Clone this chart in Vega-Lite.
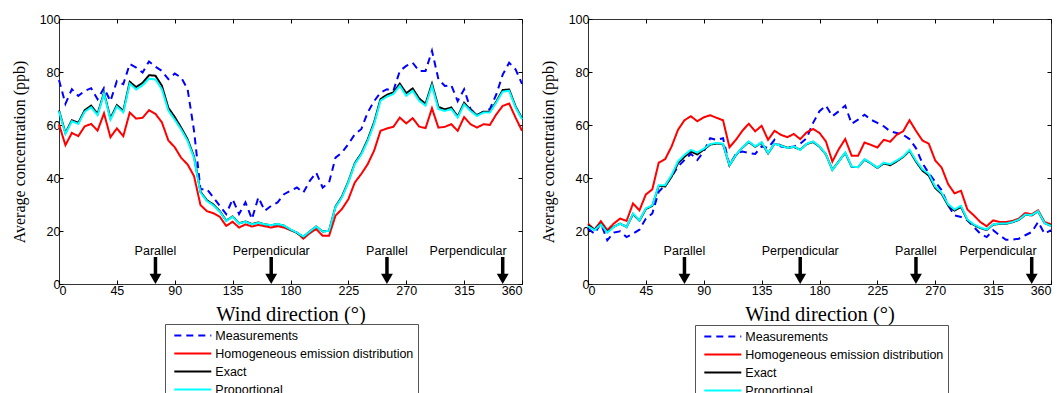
{
 "$schema": "https://vega.github.io/schema/vega-lite/v6.json",
 "padding": {"left": 10, "top": 12, "right": 5, "bottom": 5},
 "background": "white",
 "config": {
  "view": {"stroke": "#333", "strokeWidth": 1},
  "font": "Liberation Sans",
  "axis": {"domain": false, "grid": false, "tickColor": "#000", "labelColor": "#000", "titleColor": "#000", "labelFont": "Liberation Sans", "labelFontSize": 12.5, "tickSize": -4, "tickWidth": 1},
  "legend": {"orient": "none", "title": null, "symbolType": "M-3,0L3,0", "symbolSize": 152, "symbolStrokeWidth": 2, "labelFont": "Liberation Sans", "labelFontSize": 12.5, "labelColor": "#000", "padding": 4, "rowPadding": 4, "strokeColor": "#555", "fillColor": "#fff", "symbolOffset": 16.3, "labelOffset": 15, "labelLimit": 400}
 },
 "datasets": {
  "marks": [
   {"at": 75, "label": "Parallel"},
   {"at": 165, "label": "Perpendicular"},
   {"at": 255, "label": "Parallel"},
   {"at": 345, "label": "Perpendicular"}
  ],
  "left": [
   {"dir":0,"M":77,"H":60.2,"E":65.5,"P":65.2},
   {"dir":5,"M":68,"H":52.4,"E":57,"P":56.7},
   {"dir":10,"M":73.5,"H":57,"E":61.8,"P":61.4},
   {"dir":15,"M":71,"H":55.8,"E":60.8,"P":60.4},
   {"dir":20,"M":72.9,"H":59.5,"E":65.6,"P":65},
   {"dir":25,"M":73.9,"H":60.4,"E":67.3,"P":66.7},
   {"dir":30,"M":69.7,"H":57.9,"E":64.2,"P":63.7},
   {"dir":35,"M":74,"H":64.4,"E":72.2,"P":71.8},
   {"dir":40,"M":69,"H":55.4,"E":62.5,"P":62},
   {"dir":45,"M":76.6,"H":58.7,"E":67.5,"P":67},
   {"dir":50,"M":75.4,"H":55.8,"E":65.3,"P":64.8},
   {"dir":55,"M":83,"H":64.7,"E":76.3,"P":75.6},
   {"dir":60,"M":81.7,"H":62.4,"E":74.3,"P":73.4},
   {"dir":65,"M":79.8,"H":62.7,"E":75.9,"P":75},
   {"dir":70,"M":84,"H":65.6,"E":78.8,"P":77.5},
   {"dir":75,"M":82,"H":64.2,"E":78.6,"P":77.2},
   {"dir":80,"M":80.4,"H":61,"E":74.8,"P":73.5},
   {"dir":85,"M":77.3,"H":54.2,"E":66.5,"P":65.5},
   {"dir":90,"M":79.4,"H":51.6,"E":63,"P":62},
   {"dir":95,"M":77.9,"H":47.6,"E":59,"P":58.3},
   {"dir":100,"M":73.5,"H":45.1,"E":54.6,"P":54},
   {"dir":105,"M":57.8,"H":40.7,"E":48,"P":47.6},
   {"dir":110,"M":35.8,"H":29.8,"E":34.8,"P":34.5},
   {"dir":115,"M":35.8,"H":27.5,"E":31.6,"P":31.3},
   {"dir":120,"M":32.7,"H":26.7,"E":30,"P":29.7},
   {"dir":125,"M":29.5,"H":25.4,"E":27.5,"P":27.3},
   {"dir":130,"M":26.4,"H":21.9,"E":23.9,"P":23.8},
   {"dir":135,"M":32,"H":23.5,"E":25.5,"P":25.4},
   {"dir":140,"M":26.4,"H":21.3,"E":22.9,"P":22.8},
   {"dir":145,"M":30.8,"H":22.5,"E":23.6,"P":23.5},
   {"dir":150,"M":24.5,"H":21.7,"E":22.6,"P":22.5},
   {"dir":155,"M":32.7,"H":22.3,"E":23.2,"P":23.1},
   {"dir":160,"M":27.6,"H":21.8,"E":22.5,"P":22.5},
   {"dir":165,"M":29.5,"H":21.3,"E":22.2,"P":22.2},
   {"dir":170,"M":30.8,"H":21.8,"E":22.6,"P":22.7},
   {"dir":175,"M":33.9,"H":21.3,"E":22,"P":22},
   {"dir":180,"M":35.2,"H":20.3,"E":20.5,"P":20.6},
   {"dir":185,"M":36.4,"H":19.4,"E":19.3,"P":19.4},
   {"dir":190,"M":34.5,"H":17.1,"E":17.8,"P":17.9},
   {"dir":195,"M":38.9,"H":19.2,"E":19.8,"P":19.8},
   {"dir":200,"M":42,"H":20.7,"E":21.7,"P":21.7},
   {"dir":205,"M":36.4,"H":18.2,"E":19.8,"P":19.8},
   {"dir":210,"M":38.3,"H":18.2,"E":20.1,"P":20.1},
   {"dir":215,"M":47.7,"H":25.8,"E":29.2,"P":29},
   {"dir":220,"M":49.6,"H":28.3,"E":33,"P":32.7},
   {"dir":225,"M":52.8,"H":32,"E":38.7,"P":38.4},
   {"dir":230,"M":56.5,"H":38.3,"E":45.6,"P":45.3},
   {"dir":235,"M":58.4,"H":41.5,"E":49.2,"P":48.8},
   {"dir":240,"M":64.7,"H":45.2,"E":54.5,"P":54},
   {"dir":245,"M":69,"H":50.3,"E":61,"P":60.4},
   {"dir":250,"M":72.2,"H":57.8,"E":69.8,"P":69.2},
   {"dir":255,"M":73.5,"H":58.7,"E":71.4,"P":70.7},
   {"dir":260,"M":72.9,"H":59.3,"E":72.3,"P":71.7},
   {"dir":265,"M":80.4,"H":62.8,"E":75.6,"P":74.8},
   {"dir":270,"M":82.3,"H":60.6,"E":72,"P":71},
   {"dir":275,"M":83.5,"H":62.6,"E":73.8,"P":72.9},
   {"dir":280,"M":80.4,"H":59.4,"E":70,"P":69.2},
   {"dir":285,"M":80.4,"H":58.8,"E":68,"P":67.3},
   {"dir":290,"M":88,"H":66.3,"E":75.6,"P":74.8},
   {"dir":295,"M":77.3,"H":59,"E":66.8,"P":66},
   {"dir":300,"M":74.7,"H":59.3,"E":65.9,"P":65.3},
   {"dir":305,"M":75,"H":60.3,"E":66.6,"P":66},
   {"dir":310,"M":69,"H":57.8,"E":63.2,"P":62.8},
   {"dir":315,"M":73.5,"H":63,"E":68.4,"P":67.8},
   {"dir":320,"M":66,"H":60.3,"E":65.7,"P":65.3},
   {"dir":325,"M":63.7,"H":59,"E":63.7,"P":63.4},
   {"dir":330,"M":65,"H":60.3,"E":65,"P":64.7},
   {"dir":335,"M":66,"H":60,"E":65,"P":64.7},
   {"dir":340,"M":71.5,"H":64,"E":68.8,"P":68.5},
   {"dir":345,"M":79,"H":67.2,"E":73.2,"P":72.6},
   {"dir":350,"M":83.5,"H":68.1,"E":73.4,"P":72.9},
   {"dir":355,"M":81,"H":62.8,"E":67,"P":66.6},
   {"dir":360,"M":75.5,"H":57.8,"E":62.5,"P":62.2}
  ],
  "right": [
   {"dir":0,"M":20.9,"H":22.8,"E":22.2,"P":21.8},
   {"dir":5,"M":19,"H":20.5,"E":20.5,"P":20.3},
   {"dir":10,"M":22.8,"H":23.7,"E":22.7,"P":22.5},
   {"dir":15,"M":16.5,"H":20.3,"E":19.6,"P":19.4},
   {"dir":20,"M":19.4,"H":22.8,"E":21.6,"P":21.5},
   {"dir":25,"M":19.9,"H":24.7,"E":22.8,"P":22.8},
   {"dir":30,"M":17.7,"H":23.8,"E":21.5,"P":21.5},
   {"dir":35,"M":19,"H":30.4,"E":26.4,"P":26.6},
   {"dir":40,"M":20.5,"H":27.8,"E":23.9,"P":24},
   {"dir":45,"M":24.7,"H":33.8,"E":28.3,"P":28.5},
   {"dir":50,"M":26.6,"H":35.7,"E":29.5,"P":29.7},
   {"dir":55,"M":34.8,"H":45.8,"E":37,"P":37.3},
   {"dir":60,"M":37.3,"H":47.1,"E":36.8,"P":37.3},
   {"dir":65,"M":40.5,"H":51.9,"E":40.5,"P":41.1},
   {"dir":70,"M":44.3,"H":58.2,"E":45.6,"P":46.3},
   {"dir":75,"M":46.8,"H":61.8,"E":48,"P":48.7},
   {"dir":80,"M":49.1,"H":63.3,"E":50,"P":50.6},
   {"dir":85,"M":46.8,"H":61.4,"E":48.9,"P":49.6},
   {"dir":90,"M":50,"H":62.9,"E":50.7,"P":51},
   {"dir":95,"M":55,"H":63.7,"E":52.6,"P":52.8},
   {"dir":100,"M":54.4,"H":62.7,"E":53,"P":53.2},
   {"dir":105,"M":55,"H":61.8,"E":52.8,"P":52.9},
   {"dir":110,"M":44.9,"H":51.6,"E":44.8,"P":44.9},
   {"dir":115,"M":49.1,"H":54.4,"E":48.6,"P":48.7},
   {"dir":120,"M":50,"H":57.8,"E":51.4,"P":51.5},
   {"dir":125,"M":49.4,"H":60.5,"E":53.6,"P":53.8},
   {"dir":130,"M":49.1,"H":57.6,"E":51.8,"P":51.9},
   {"dir":135,"M":51.9,"H":59.7,"E":53.3,"P":53.5},
   {"dir":140,"M":51.3,"H":54.4,"E":49.3,"P":49.4},
   {"dir":145,"M":54.4,"H":57.8,"E":52.9,"P":52.9},
   {"dir":150,"M":51.9,"H":56.3,"E":52.3,"P":52.2},
   {"dir":155,"M":51.5,"H":55.4,"E":51.4,"P":51.3},
   {"dir":160,"M":51.9,"H":56.6,"E":51.7,"P":51.9},
   {"dir":165,"M":52.9,"H":54.7,"E":50.7,"P":50.6},
   {"dir":170,"M":55,"H":57.2,"E":52.8,"P":52.9},
   {"dir":175,"M":60.8,"H":58.5,"E":53.6,"P":53.8},
   {"dir":180,"M":65.2,"H":57,"E":51.8,"P":51.9},
   {"dir":185,"M":67.3,"H":53.8,"E":48.9,"P":49},
   {"dir":190,"M":63.3,"H":46.2,"E":43.1,"P":43},
   {"dir":195,"M":65.2,"H":50.9,"E":46.3,"P":46.2},
   {"dir":200,"M":67.3,"H":54.7,"E":49.5,"P":49.6},
   {"dir":205,"M":60.5,"H":48.4,"E":44.2,"P":44.3},
   {"dir":210,"M":62,"H":48.4,"E":44.1,"P":44.1},
   {"dir":215,"M":63.9,"H":53.4,"E":46.9,"P":47.1},
   {"dir":220,"M":62,"H":52.5,"E":45.5,"P":45.6},
   {"dir":225,"M":60.8,"H":51.5,"E":43.8,"P":43.9},
   {"dir":230,"M":59.5,"H":54.4,"E":45.5,"P":45.8},
   {"dir":235,"M":57.6,"H":53.7,"E":44.8,"P":45.2},
   {"dir":240,"M":57,"H":56.3,"E":46.3,"P":46.6},
   {"dir":245,"M":56.3,"H":57.6,"E":47.9,"P":48.1},
   {"dir":250,"M":54.7,"H":61.8,"E":50.3,"P":50.6},
   {"dir":255,"M":51.3,"H":57.8,"E":46.2,"P":46.6},
   {"dir":260,"M":45.6,"H":54.2,"E":42.8,"P":43.3},
   {"dir":265,"M":41.8,"H":52.9,"E":40.9,"P":41.5},
   {"dir":270,"M":38.6,"H":46.6,"E":36.2,"P":36.7},
   {"dir":275,"M":35.4,"H":43.9,"E":34,"P":34.4},
   {"dir":280,"M":29.7,"H":37.7,"E":29.7,"P":30.1},
   {"dir":285,"M":25.9,"H":34.2,"E":27.7,"P":28.1},
   {"dir":290,"M":25.3,"H":35.2,"E":29.1,"P":29.5},
   {"dir":295,"M":24,"H":28.1,"E":24.1,"P":24.3},
   {"dir":300,"M":21.5,"H":25.9,"E":22.3,"P":22.5},
   {"dir":305,"M":19,"H":23.4,"E":21.1,"P":21.3},
   {"dir":310,"M":17.7,"H":21.8,"E":20.4,"P":20.5},
   {"dir":315,"M":20.3,"H":24,"E":22.4,"P":22.5},
   {"dir":320,"M":18.4,"H":23.4,"E":22.7,"P":22.8},
   {"dir":325,"M":16.7,"H":23.4,"E":22.7,"P":22.8},
   {"dir":330,"M":16.7,"H":23.8,"E":23.3,"P":23.4},
   {"dir":335,"M":17.1,"H":24.7,"E":24.2,"P":24.3},
   {"dir":340,"M":18.4,"H":26.8,"E":26.1,"P":26.2},
   {"dir":345,"M":19.6,"H":26.3,"E":25.9,"P":26},
   {"dir":350,"M":23.4,"H":27.8,"E":27.4,"P":27.5},
   {"dir":355,"M":19,"H":23.4,"E":23,"P":23},
   {"dir":360,"M":20.3,"H":22.5,"E":22,"P":21.9}
  ]
 },
 "spacing": 66,
 "bounds": "flush",
 "resolve": {"legend": {"color": "independent", "strokeDash": "independent"}},
 "hconcat": [
  {
   "width": 463, "height": 265,
   "data": {"name": "left"},
   "layer": [
    {
     "transform": [{"fold": ["M", "H", "E", "P"], "as": ["series", "value"]}],
     "mark": {"type": "line", "strokeWidth": 2},
     "encoding": {
      "x": {"field": "dir", "type": "quantitative", "scale": {"domain": [0, 360], "nice": false, "zero": false},
            "axis": {"orient": "bottom", "values": [0,45,90,135,180,225,270,315,360], "title": "Wind direction (°)", "titleFont": "Liberation Serif", "titleFontSize": 20.5, "titleFontWeight": "normal", "titlePadding": 8, "labelPadding": 4}},
      "y": {"field": "value", "type": "quantitative", "scale": {"domain": [0, 100], "nice": false},
            "axis": {"orient": "left", "values": [0,20,40,60,80,100], "title": "Average concentration (ppb)", "titleFont": "Liberation Serif", "titleFontSize": 16, "titleFontWeight": "normal", "titlePadding": 12, "labelPadding": 3}},
      "color": {"field": "series", "type": "nominal",
                "scale": {"domain": ["M", "H", "E", "P"], "range": ["#0000ff", "#ff0000", "#000000", "#00ffff"]},
                "legend": {"legendX": 106, "legendY": 305,
                           "labelExpr": "datum.label == 'M' ? 'Measurements' : datum.label == 'H' ? 'Homogeneous emission distribution' : datum.label == 'E' ? 'Exact' : 'Proportional'"}},
      "strokeDash": {"field": "series", "type": "nominal",
                "scale": {"domain": ["M", "H", "E", "P"], "range": [[7, 5], [1, 0], [1, 0], [1, 0]]},
                "legend": {"legendX": 106, "legendY": 305,
                           "labelExpr": "datum.label == 'M' ? 'Measurements' : datum.label == 'H' ? 'Homogeneous emission distribution' : datum.label == 'E' ? 'Exact' : 'Proportional'"}}
     }
    },
    {
     "data": {"name": "marks"},
     "mark": {"type": "rule", "strokeWidth": 3.5, "color": "#000"},
     "encoding": {"x": {"field": "at", "type": "quantitative", "axis": null}, "y": {"datum": 10.2, "type": "quantitative", "axis": null}, "y2": {"datum": 3.5}}
    },
    {
     "data": {"name": "marks"},
     "mark": {"type": "point", "shape": "triangle-down", "filled": true, "size": 140, "color": "#000", "opacity": 1},
     "encoding": {"x": {"field": "at", "type": "quantitative", "axis": null}, "y": {"datum": 1.95, "type": "quantitative", "axis": null}}
    },
    {
     "data": {"name": "marks"},
     "transform": [{"filter": "datum.at < 300"}],
     "mark": {"type": "text", "fontSize": 12.5, "font": "Liberation Sans", "baseline": "middle", "color": "#000"},
     "encoding": {
      "x": {"field": "at", "type": "quantitative", "axis": {"orient": "top", "labels": false, "title": null, "values": [0,45,90,135,180,225,270,315,360]}},
      "y": {"datum": 12.5, "type": "quantitative", "axis": {"orient": "right", "labels": false, "title": null, "values": [0,20,40,60,80,100]}},
      "text": {"field": "label"}
     }
    },
    {
     "data": {"name": "marks"},
     "transform": [{"filter": "datum.at > 300"}],
     "mark": {"type": "text", "fontSize": 12.5, "font": "Liberation Sans", "baseline": "middle", "align": "right", "dx": 4, "color": "#000"},
     "encoding": {
      "x": {"field": "at", "type": "quantitative", "axis": null},
      "y": {"datum": 12.5, "type": "quantitative", "axis": null},
      "text": {"field": "label"}
     }
    }
   ],
   "resolve": {"axis": {"x": "independent", "y": "independent"}}
  },
  {
   "width": 463, "height": 265,
   "data": {"name": "right"},
   "layer": [
    {
     "transform": [{"fold": ["M", "H", "E", "P"], "as": ["series", "value"]}],
     "mark": {"type": "line", "strokeWidth": 2},
     "encoding": {
      "x": {"field": "dir", "type": "quantitative", "scale": {"domain": [0, 360], "nice": false, "zero": false},
            "axis": {"orient": "bottom", "values": [0,45,90,135,180,225,270,315,360], "title": "Wind direction (°)", "titleFont": "Liberation Serif", "titleFontSize": 20.5, "titleFontWeight": "normal", "titlePadding": 8, "labelPadding": 4}},
      "y": {"field": "value", "type": "quantitative", "scale": {"domain": [0, 100], "nice": false},
            "axis": {"orient": "left", "values": [0,20,40,60,80,100], "title": "Average concentration (ppb)", "titleFont": "Liberation Serif", "titleFontSize": 16, "titleFontWeight": "normal", "titlePadding": 12, "labelPadding": 3}},
      "color": {"field": "series", "type": "nominal",
                "scale": {"domain": ["M", "H", "E", "P"], "range": ["#0000ff", "#ff0000", "#000000", "#00ffff"]},
                "legend": {"legendX": 107, "legendY": 306,
                           "labelExpr": "datum.label == 'M' ? 'Measurements' : datum.label == 'H' ? 'Homogeneous emission distribution' : datum.label == 'E' ? 'Exact' : 'Proportional'"}},
      "strokeDash": {"field": "series", "type": "nominal",
                "scale": {"domain": ["M", "H", "E", "P"], "range": [[7, 5], [1, 0], [1, 0], [1, 0]]},
                "legend": {"legendX": 107, "legendY": 306,
                           "labelExpr": "datum.label == 'M' ? 'Measurements' : datum.label == 'H' ? 'Homogeneous emission distribution' : datum.label == 'E' ? 'Exact' : 'Proportional'"}}
     }
    },
    {
     "data": {"name": "marks"},
     "mark": {"type": "rule", "strokeWidth": 3.5, "color": "#000"},
     "encoding": {"x": {"field": "at", "type": "quantitative", "axis": null}, "y": {"datum": 10.2, "type": "quantitative", "axis": null}, "y2": {"datum": 3.5}}
    },
    {
     "data": {"name": "marks"},
     "mark": {"type": "point", "shape": "triangle-down", "filled": true, "size": 140, "color": "#000", "opacity": 1},
     "encoding": {"x": {"field": "at", "type": "quantitative", "axis": null}, "y": {"datum": 1.95, "type": "quantitative", "axis": null}}
    },
    {
     "data": {"name": "marks"},
     "transform": [{"filter": "datum.at < 300"}],
     "mark": {"type": "text", "fontSize": 12.5, "font": "Liberation Sans", "baseline": "middle", "color": "#000"},
     "encoding": {
      "x": {"field": "at", "type": "quantitative", "axis": {"orient": "top", "labels": false, "title": null, "values": [0,45,90,135,180,225,270,315,360]}},
      "y": {"datum": 12.5, "type": "quantitative", "axis": {"orient": "right", "labels": false, "title": null, "values": [0,20,40,60,80,100]}},
      "text": {"field": "label"}
     }
    },
    {
     "data": {"name": "marks"},
     "transform": [{"filter": "datum.at > 300"}],
     "mark": {"type": "text", "fontSize": 12.5, "font": "Liberation Sans", "baseline": "middle", "align": "right", "dx": 5, "color": "#000"},
     "encoding": {
      "x": {"field": "at", "type": "quantitative", "axis": null},
      "y": {"datum": 12.5, "type": "quantitative", "axis": null},
      "text": {"field": "label"}
     }
    }
   ],
   "resolve": {"axis": {"x": "independent", "y": "independent"}}
  }
 ]
}
